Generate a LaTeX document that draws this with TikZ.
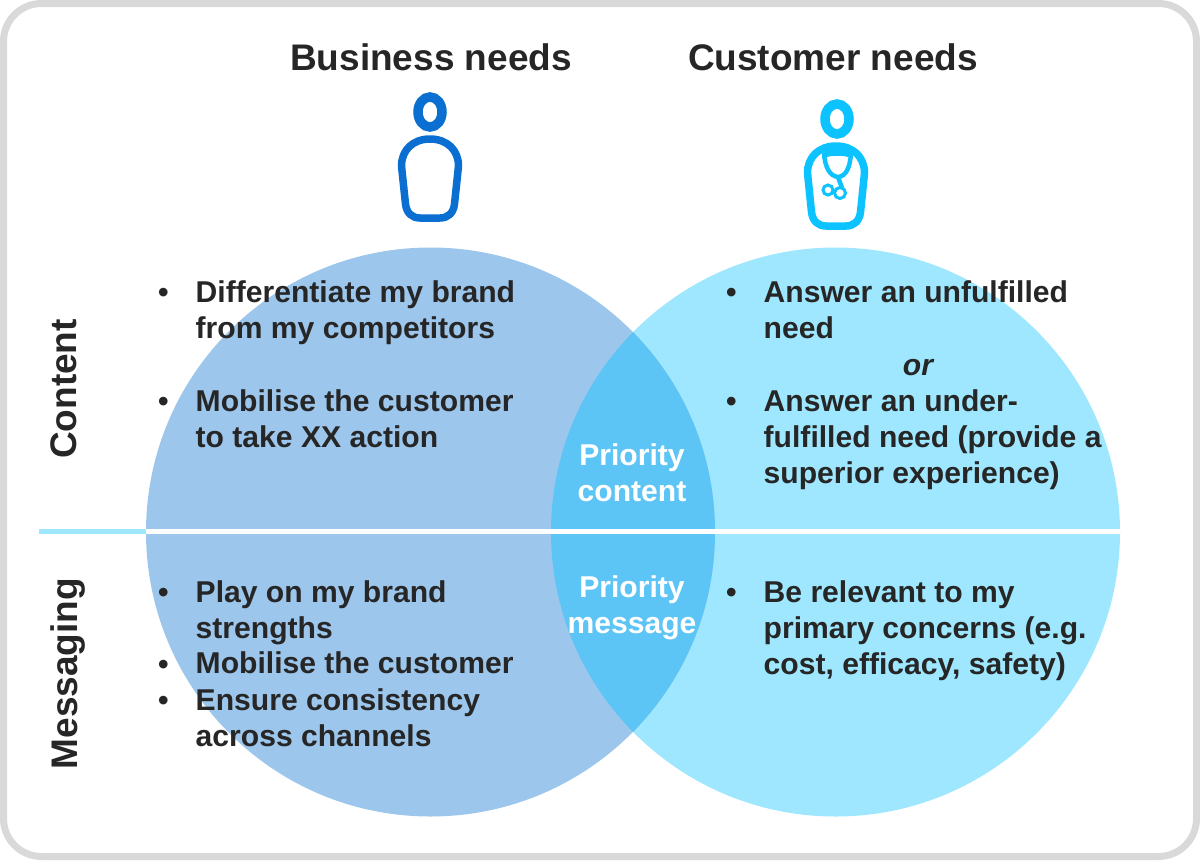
\documentclass[tikz,border=0pt]{standalone}
\usepackage{fontspec}
\setmainfont{Liberation Sans}
\definecolor{framegray}{HTML}{D9D9D9}
\definecolor{darktext}{HTML}{262626}
\definecolor{bizblue}{HTML}{9CC6EC}
\definecolor{custblue}{HTML}{9EE7FF}
\definecolor{overlapblue}{HTML}{5CC5F5}
\definecolor{bizicon}{HTML}{0A6FD0}
\definecolor{custicon}{HTML}{0CC3FF}
\begin{document}
\begin{tikzpicture}[x=1pt, y=-1pt,
		every node/.style={inner sep=0pt, text=darktext},
		head/.style={font=\fontsize{37}{44}\selectfont\bfseries},
		side/.style={font=\fontsize{37}{44}\selectfont\bfseries, rotate=90},
		item/.style={anchor=north west, align=left, font=\fontsize{30.1}{36}\selectfont\bfseries, execute at begin node=\strut},
		mid/.style={align=center, text=white, font=\fontsize{30.1}{36}\selectfont\bfseries},
		venn/.style={circle, minimum size=569pt},
		person/.style={line width=7.5pt, line join=round}]
			\useasboundingbox (0, 0) rectangle (1200, 860);
			\draw[framegray, line width=7pt, rounded corners=38pt] (3.5, 3.5) rectangle (1196.5, 856.5);

			% circles and their overlap
			\node[venn, fill=custblue] (cust) at (835.5, 532) {};
			\node[venn, fill=bizblue] (biz) at (430.5, 532) {};
			\begin{scope}
				\clip (430.5, 532) circle (284.5pt);
				\fill[overlapblue] (835.5, 532) circle (284.5pt);
			\end{scope}

			\coordinate (linea) at (39, 531.5);
			\coordinate (lineb) at (146, 531.5);
			\coordinate (linec) at (1120, 531.5);
			\draw[custblue, line width=5pt] (linea) -- (lineb);
			\draw[white, line width=5pt] (lineb) -- (linec);

			\node[head] (bizhead) at (431, 57) {Business needs};
			\node[head] (custhead) at (833, 57) {Customer needs};
			\node[side] (content) at (64, 389) {Content};
			\node[side] (messaging) at (68, 673.5) {Messaging};

			% left person
			\draw[bizicon, line width=9.5pt] (430, 112) ellipse (12pt and 15pt);
			\draw[bizicon, person] (430, 139) .. controls (447, 139) and (458.5, 150) .. (458.5, 166) -- (454.5, 204)
				.. controls (453.5, 213) and (448, 218) .. (440, 218) -- (420, 218)
				.. controls (412, 218) and (406.5, 213) .. (405.5, 204) -- (401.5, 166)
				.. controls (401.5, 150) and (413, 139) .. (430, 139) -- cycle;

			% right person
			\draw[custicon, line width=9.5pt] (837, 119) ellipse (12pt and 15pt);
			\draw[custicon, person] (836, 146) .. controls (853, 146) and (864.5, 157) .. (864.5, 173) -- (860.5, 212)
				.. controls (859.5, 221) and (854, 226) .. (846, 226) -- (826, 226)
				.. controls (818, 226) and (812.5, 221) .. (811.5, 212) -- (807.5, 173)
				.. controls (807.5, 157) and (819, 146) .. (836, 146) -- cycle;
			\draw[custicon, line width=4.5pt] (824, 153) .. controls (825, 168) and (830, 176) .. (838, 177)
				.. controls (846, 176) and (850, 168) .. (851, 153);
			\fill[custicon] (823, 150) .. controls (830, 146) and (845, 146) .. (852, 150) -- (851, 158) .. controls (845, 155) and (830, 155) .. (824, 158) -- cycle;
			\draw[custicon, line width=4.5pt] (838, 177) -- (842, 188);
			\draw[custicon, line width=3pt] (840, 193) circle (5.5pt);
			\draw[custicon, line width=3pt] (828, 190) circle (5pt);

			% left texts
			\node[item] (bula) at (158, 277) {•};
			\node[item] (diff) at (195.5, 280) {Differentiate my brand\\from my competitors};
			\node[item] (bulb) at (158, 386) {•};
			\node[item] (mob) at (195.5, 389) {Mobilise the customer\\to take XX action};
			\node[item] (bulc) at (158, 577) {•};
			\node[item] (play) at (195.5, 580) {Play on my brand\\strengths};
			\node[item] (buld) at (158, 649) {•};
			\node[item] (mobb) at (195.5, 648) {Mobilise the customer};
			\node[item] (bule) at (158, 685) {•};
			\node[item] (ens) at (195.5, 688) {Ensure consistency\\across channels};

			% right texts
			\node[item] (bulf) at (726, 277) {•};
			\node[item] (ans) at (763.5, 280) {Answer an unfulfilled\\need};
			\node[font=\fontsize{30.1}{36}\selectfont\bfseries\itshape] (ortxt) at (918, 368) {or};
			\node[item] (bulg) at (726, 386) {•};
			\node[item] (ansb) at (763.5, 389) {Answer an under-\\fulfilled need (provide a\\superior experience)};
			\node[item] (bulh) at (726, 577) {•};
			\node[item] (rel) at (763.5, 580) {Be relevant to my\\primary concerns (e.g.\\cost, efficacy, safety)};

			% overlap texts
			\node[mid] (pricon) at (632, 473) {Priority\\content};
			\node[mid] (primes) at (632, 608) {Priority\\message};
		\end{tikzpicture}
\end{document}
